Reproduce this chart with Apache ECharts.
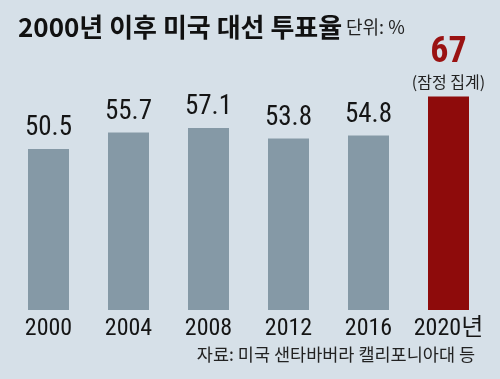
<!DOCTYPE html>
<html><head><meta charset="utf-8">
<script src="https://cdn.jsdelivr.net/npm/echarts@6/dist/echarts.min.js"></script>
<style>html,body{margin:0;padding:0;background:#d6e0e8;}#c{width:500px;height:379px;}</style>
</head><body><div id="c"></div>
<script>
const categories = ['2000', '2004', '2008', '2012', '2016', '2020년'];
const turnout = [50.5, 55.7, 57.1, 53.8, 54.8, 67];
const titleText = '2000년 이후 미국 대선 투표율';
const unitText = '단위: %';
const noteText = '(잠정 집계)';
const sourceText = '자료: 미국 샌타바버라 캘리포니아대 등';

const NARROW = "'Roboto Condensed', 'Noto Sans CJK KR', sans-serif";
const KR = "'Noto Sans CJK KR', sans-serif";

const data = turnout.map((v, i) => {
  if (i === turnout.length - 1) {
    return {
      value: v,
      itemStyle: { color: '#8e0b0b' },
      label: {
        formatter: '{a|{c}}\n{b|' + noteText + '}',
        rich: {
          a: { fontFamily: NARROW, fontSize: 36, fontWeight: 'bold', color: '#9a1212', lineHeight: 36 },
          b: { fontFamily: KR, fontSize: 16, color: '#222', lineHeight: 22 }
        },
        distance: 4
      }
    };
  }
  return v;
});

const chart = echarts.init(document.getElementById('c'));
chart.setOption({
  backgroundColor: '#d6e0e8',
  animation: false,
  grid: { left: 8.5, right: 11.5, top: 87, bottom: 69 },
  xAxis: {
    type: 'category', data: categories,
    axisLine: { show: false }, axisTick: { show: false },
    axisLabel: { interval: 0, fontFamily: NARROW, fontSize: 24, color: '#151515', margin: 7 }
  },
  yAxis: { type: 'value', min: 0, max: 70, show: false, splitLine: { show: false } },
  series: [{
    type: 'bar', data: data, barWidth: 41,
    itemStyle: { color: '#8599a6' },
    label: { show: true, position: 'top', distance: 7, fontFamily: NARROW, fontSize: 27, color: '#151515' }
  }],
  graphic: [
    { type: 'text', left: 18, top: 14, style: { text: titleText, font: "bold 26px 'Noto Sans CJK KR', sans-serif", fill: '#111' } },
    { type: 'text', left: 346, top: 18, style: { text: unitText, font: "18px 'Noto Sans CJK KR', sans-serif", fill: '#222' } },
    { type: 'text', right: 25, top: 346, style: { text: sourceText, font: "17.5px 'Noto Sans CJK KR', sans-serif", fill: '#222' } }
  ]
});
</script></body></html>
